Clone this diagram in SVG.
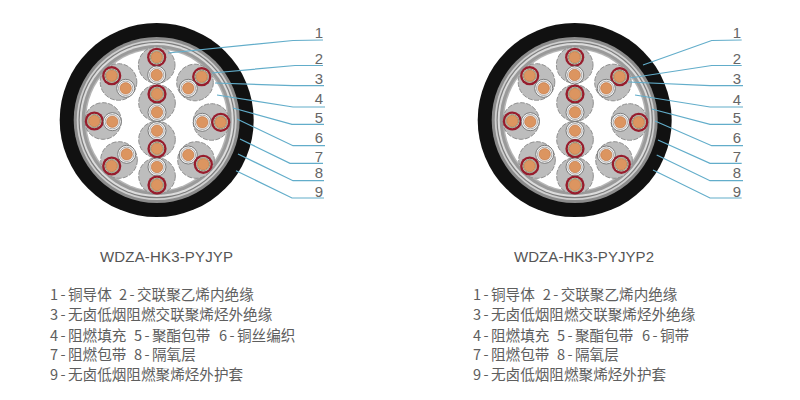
<svg xmlns="http://www.w3.org/2000/svg" xmlns:xlink="http://www.w3.org/1999/xlink" width="800" height="400" viewBox="0 0 800 400">
<style>
text{font-family:"Noto Sans CJK SC","Liberation Sans",sans-serif;fill:#5e5e5e}
.num{font-family:"Liberation Sans","Noto Sans",sans-serif;font-size:15px;text-anchor:middle;fill:#666}
.title{font-family:"Liberation Sans","Noto Sans",sans-serif;font-size:15px;fill:#555}
.body{font-size:14.6px}
.pre{letter-spacing:2.4px}
.lead{fill:none;stroke:#62adca;stroke-width:1.2}
.fill{fill:#bdbdbd;stroke:#8f8f8f;stroke-width:1;stroke-dasharray:5 1.5}
.cu{fill:#dc9560;stroke:#b86f42;stroke-width:.6}
</style>
<defs>
<g id="red"><circle r="9.6" fill="#971d2d"/><circle r="7.2" fill="#ece9dc"/><circle r="6.5" fill="none" stroke="#5f7d5f" stroke-width=".7"/><circle r="5.7" class="cu"/></g>
<g id="plain"><circle r="9" fill="#f7f7f7" stroke="#666" stroke-width=".8"/><circle r="7.2" fill="none" stroke="#888" stroke-width=".7"/><circle r="5.7" class="cu"/></g>
<g id="art">
<circle cx="156.7" cy="120" r="97" fill="#111"/>
<circle cx="156.7" cy="120" r="83" fill="#8c8c8c"/>
<circle cx="156.7" cy="120" r="80" fill="#cfcfcf"/>
<circle cx="156.7" cy="120" r="78.2" fill="#7c7c7c"/>
<circle cx="156.7" cy="120" r="77" fill="#dcdcdc"/>
<circle cx="156.7" cy="120" r="75" fill="#9a9a9a"/>
<circle cx="156.7" cy="120" r="72" fill="#b5b5b5"/>
<circle cx="156.7" cy="120" r="70.5" fill="#fff"/>
<circle class="fill" cx="156.7" cy="65" r="18.3"/>
<circle class="fill" cx="157" cy="103" r="18.3"/>
<circle class="fill" cx="157" cy="139.5" r="18.3"/>
<circle class="fill" cx="157" cy="176" r="18.3"/>
<circle class="fill" cx="118.5" cy="82" r="18.3"/>
<circle class="fill" cx="195" cy="82.5" r="18.3"/>
<circle class="fill" cx="103" cy="121" r="18.3"/>
<circle class="fill" cx="211.5" cy="122" r="18.3"/>
<circle class="fill" cx="119" cy="160" r="18.3"/>
<circle class="fill" cx="196" cy="160" r="18.3"/>
<use href="#red" x="156.7" y="57.3"/><use href="#plain" x="156.7" y="75"/>
<use href="#red" x="157" y="94"/><use href="#plain" x="157" y="112.3"/>
<use href="#plain" x="157" y="130.7"/><use href="#red" x="157" y="148.7"/>
<use href="#plain" x="157" y="167"/><use href="#red" x="157" y="185"/>
<use href="#red" x="111.7" y="75.7"/><use href="#plain" x="125.7" y="88.3"/>
<use href="#red" x="201.7" y="76.7"/><use href="#plain" x="188.3" y="88.3"/>
<use href="#red" x="94.3" y="121"/><use href="#plain" x="112.3" y="121.7"/>
<use href="#plain" x="202.3" y="122.3"/><use href="#red" x="220.7" y="122.3"/>
<use href="#red" x="111.7" y="166"/><use href="#plain" x="126.7" y="154.3"/>
<use href="#plain" x="188.3" y="155"/><use href="#red" x="203.3" y="164.3"/>
</g>
</defs>
<rect width="800" height="400" fill="#fff"/>
<g id="cable-left"><use href="#art"/></g>
<g id="cable-right"><use href="#art" x="418"/></g>
<g id="connectors">
<polyline class="lead" points="168,53 293,40.5 323,40"/>
<polyline class="lead" points="212,73 295,65.5 323,65.5"/>
<polyline class="lead" points="215,83 293,85.7 324,85.7"/>
<polyline class="lead" points="217,95 293,107 325,107"/>
<polyline class="lead" points="233,108 292,124.3 324,124.3"/>
<polyline class="lead" points="237,119 293,145.7 325,145.7"/>
<polyline class="lead" points="240,139 290,163.3 323,163.3"/>
<polyline class="lead" points="238,154 293,180.7 324,180.7"/>
<polyline class="lead" points="236,170.7 292,198 324,198"/>
<polyline class="lead" points="643,65 711.7,40.5 741.7,40"/>
<polyline class="lead" points="630,78 711.7,65.5 741.7,65.5"/>
<polyline class="lead" points="628,82 710,85.7 743,85.7"/>
<polyline class="lead" points="635,95 710,107 743,107"/>
<polyline class="lead" points="651.7,109 710,124.3 741.7,124.3"/>
<polyline class="lead" points="655,121 711.7,145.7 743,145.7"/>
<polyline class="lead" points="658,140 710,163.3 741.7,163.3"/>
<polyline class="lead" points="656.7,155 710,180.7 743,180.7"/>
<polyline class="lead" points="653,170 710,198 741.7,198"/>
</g>
<g id="labels-left">
<text class="num" x="319" y="38">1</text><text class="num" x="319" y="64">2</text><text class="num" x="319" y="84">3</text><text class="num" x="319" y="104">4</text><text class="num" x="319" y="123">5</text><text class="num" x="319" y="143">6</text><text class="num" x="319" y="162">7</text><text class="num" x="319" y="178">8</text><text class="num" x="319" y="197">9</text>
</g>
<g id="labels-right">
<text class="num" x="737" y="38">1</text><text class="num" x="737" y="64">2</text><text class="num" x="737" y="84">3</text><text class="num" x="737" y="105">4</text><text class="num" x="737" y="123">5</text><text class="num" x="737" y="143">6</text><text class="num" x="737" y="162">7</text><text class="num" x="737" y="178">8</text><text class="num" x="737" y="197">9</text>
</g>
<g id="legend-left">
<text class="title" x="100" y="262" textLength="133" lengthAdjust="spacing">WDZA-HK3-PYJYP</text>
<text class="body" y="300"><tspan class="pre" x="50">1-</tspan>铜导体<tspan class="pre" x="119">2-</tspan>交联聚乙烯内绝缘</text>
<text class="body" y="320"><tspan class="pre" x="50">3-</tspan>无卤低烟阻燃交联聚烯烃外绝缘</text>
<text class="body" y="341"><tspan class="pre" x="50">4-</tspan>阻燃填充<tspan class="pre" x="134">5-</tspan>聚酯包带<tspan class="pre" x="219">6-</tspan>铜丝编织</text>
<text class="body" y="360"><tspan class="pre" x="50">7-</tspan>阻燃包带<tspan class="pre" x="134">8-</tspan>隔氧层</text>
<text class="body" y="380"><tspan class="pre" x="50">9-</tspan>无卤低烟阻燃聚烯烃外护套</text>
</g>
<g id="legend-right">
<text class="title" x="514" y="262" textLength="140" lengthAdjust="spacing">WDZA-HK3-PYJYP2</text>
<text class="body" y="300"><tspan class="pre" x="473">1-</tspan>铜导体<tspan class="pre" x="542.7">2-</tspan>交联聚乙烯内绝缘</text>
<text class="body" y="320"><tspan class="pre" x="473">3-</tspan>无卤低烟阻燃交联聚烯烃外绝缘</text>
<text class="body" y="341"><tspan class="pre" x="473">4-</tspan>阻燃填充<tspan class="pre" x="557">5-</tspan>聚酯包带<tspan class="pre" x="642">6-</tspan>铜带</text>
<text class="body" y="360"><tspan class="pre" x="473">7-</tspan>阻燃包带<tspan class="pre" x="557">8-</tspan>隔氧层</text>
<text class="body" y="380"><tspan class="pre" x="473">9-</tspan>无卤低烟阻燃聚烯烃外护套</text>
</g>
</svg>
